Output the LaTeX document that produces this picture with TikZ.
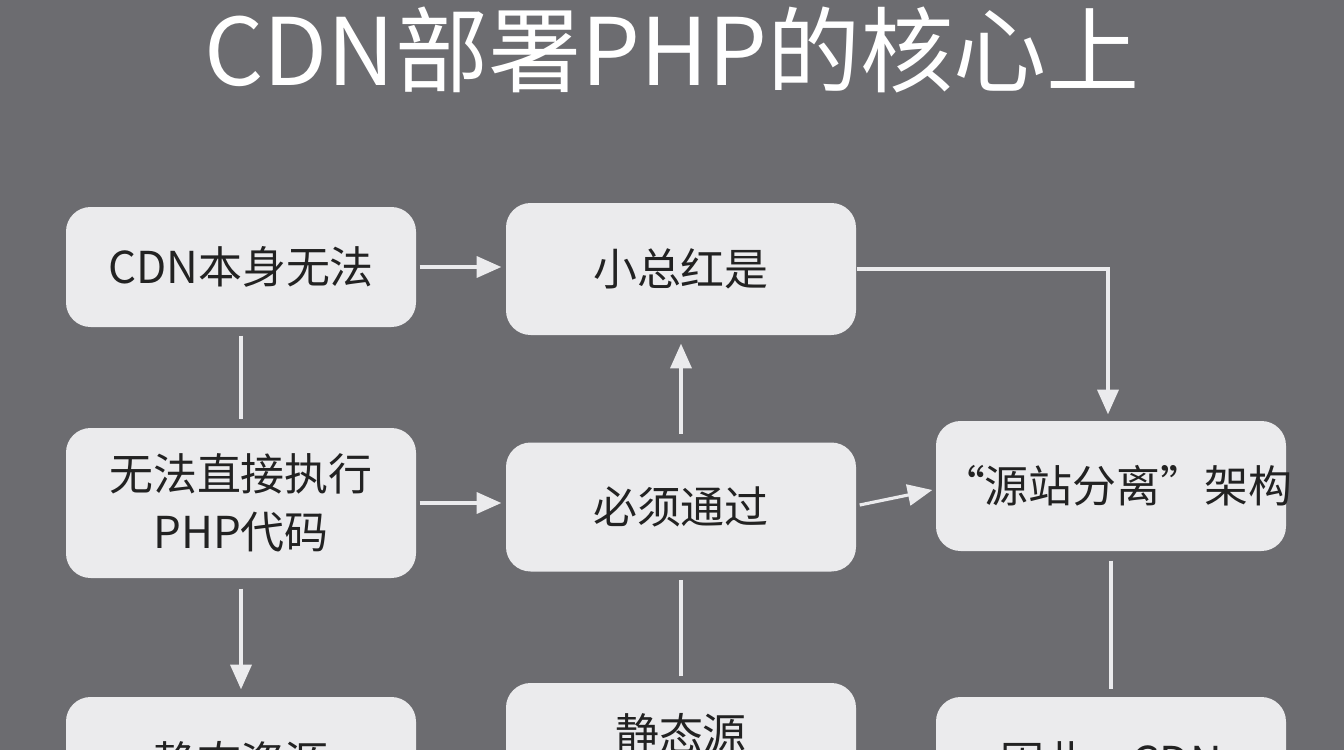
\documentclass[tikz,border=0pt]{standalone}
\usepackage{fontspec}
\setmainfont{Noto Sans CJK SC}
\usetikzlibrary{arrows.meta}
\definecolor{bgc}{HTML}{6C6C70}
\definecolor{boxc}{HTML}{EBEBED}
\definecolor{txtc}{HTML}{222222}
\tikzset{
  box/.style={fill=boxc, rounded corners=7pt, inner xsep=0.05cm, text width=3.4cm,
    align=center, font=\fontsize{12.5}{16.5}\selectfont, text=txtc},
  link/.style={draw=boxc, line width=0.9pt},
  flow/.style={link, -{Stealth[length=7pt,width=6pt,inset=0pt]}}
}
\begin{document}
\begin{tikzpicture}
\useasboundingbox (0,0) rectangle (13.44,-7.5);
\clip (0,0) rectangle (13.44,-7.5);
\fill[bgc] (0,0) rectangle (13.44,-7.5);
\node[text=white, font=\fontsize{26.5}{30}\selectfont] (title) at (6.72,-0.5) {CDN部署PHP的核心上};
% row one
\node[box, minimum height=1.2cm] (cdn) at (2.41,-2.67) {CDN本身无法};
\node[box, minimum height=1.32cm] (xiao) at (6.81,-2.69) {小总红是};
% row two
\node[box, minimum height=1.5cm] (php) at (2.41,-5.03) {无法直接执行\\PHP代码};
\node[box, minimum height=1.29cm] (bixu) at (6.81,-5.07) {必须通过};
\node[box, minimum height=1.3cm] (yuan) at (11.11,-4.86) {“源站分离”架构};
% row three (cut off)
\node[box, minimum height=1.3cm] (jing) at (2.41,-7.62) {静态资源};
\node[box, minimum height=1.6cm] (jtai) at (6.81,-7.63) {静态源\\资源};
\node[box, minimum height=1.3cm] (yinci) at (11.11,-7.62) {因此，CDN};
% connectors
\draw[flow] (cdn.east) ++(0.03,0) coordinate (a1) -- ([xshift=-0.04cm]xiao.west |- a1);
\draw[flow] (xiao.east) -| ([yshift=0.06cm]yuan.north -| 11.08,0);
\draw[link] ([yshift=-0.08cm]cdn.south) -- ([yshift=0.08cm]php.north);
\draw[flow] ([xshift=0.03cm]php.east) -- ([xshift=-0.04cm]bixu.west |- php.east);
\draw[flow] ([xshift=0.03cm,yshift=0.02cm]bixu.east) -- ([xshift=-0.03cm,yshift=-0.04cm]yuan.west);
\draw[flow] ([yshift=0.08cm]bixu.north) -- ([yshift=-0.08cm]xiao.south);
\draw[flow] ([yshift=-0.1cm]php.south) -- ([yshift=0.07cm]jing.north);
\draw[link] ([yshift=0.06cm]jtai.north) -- ([yshift=-0.08cm]bixu.south);
\draw[link] ([yshift=-0.09cm]yuan.south) -- ([yshift=0.07cm]yinci.north);
\end{tikzpicture}
\end{document}
